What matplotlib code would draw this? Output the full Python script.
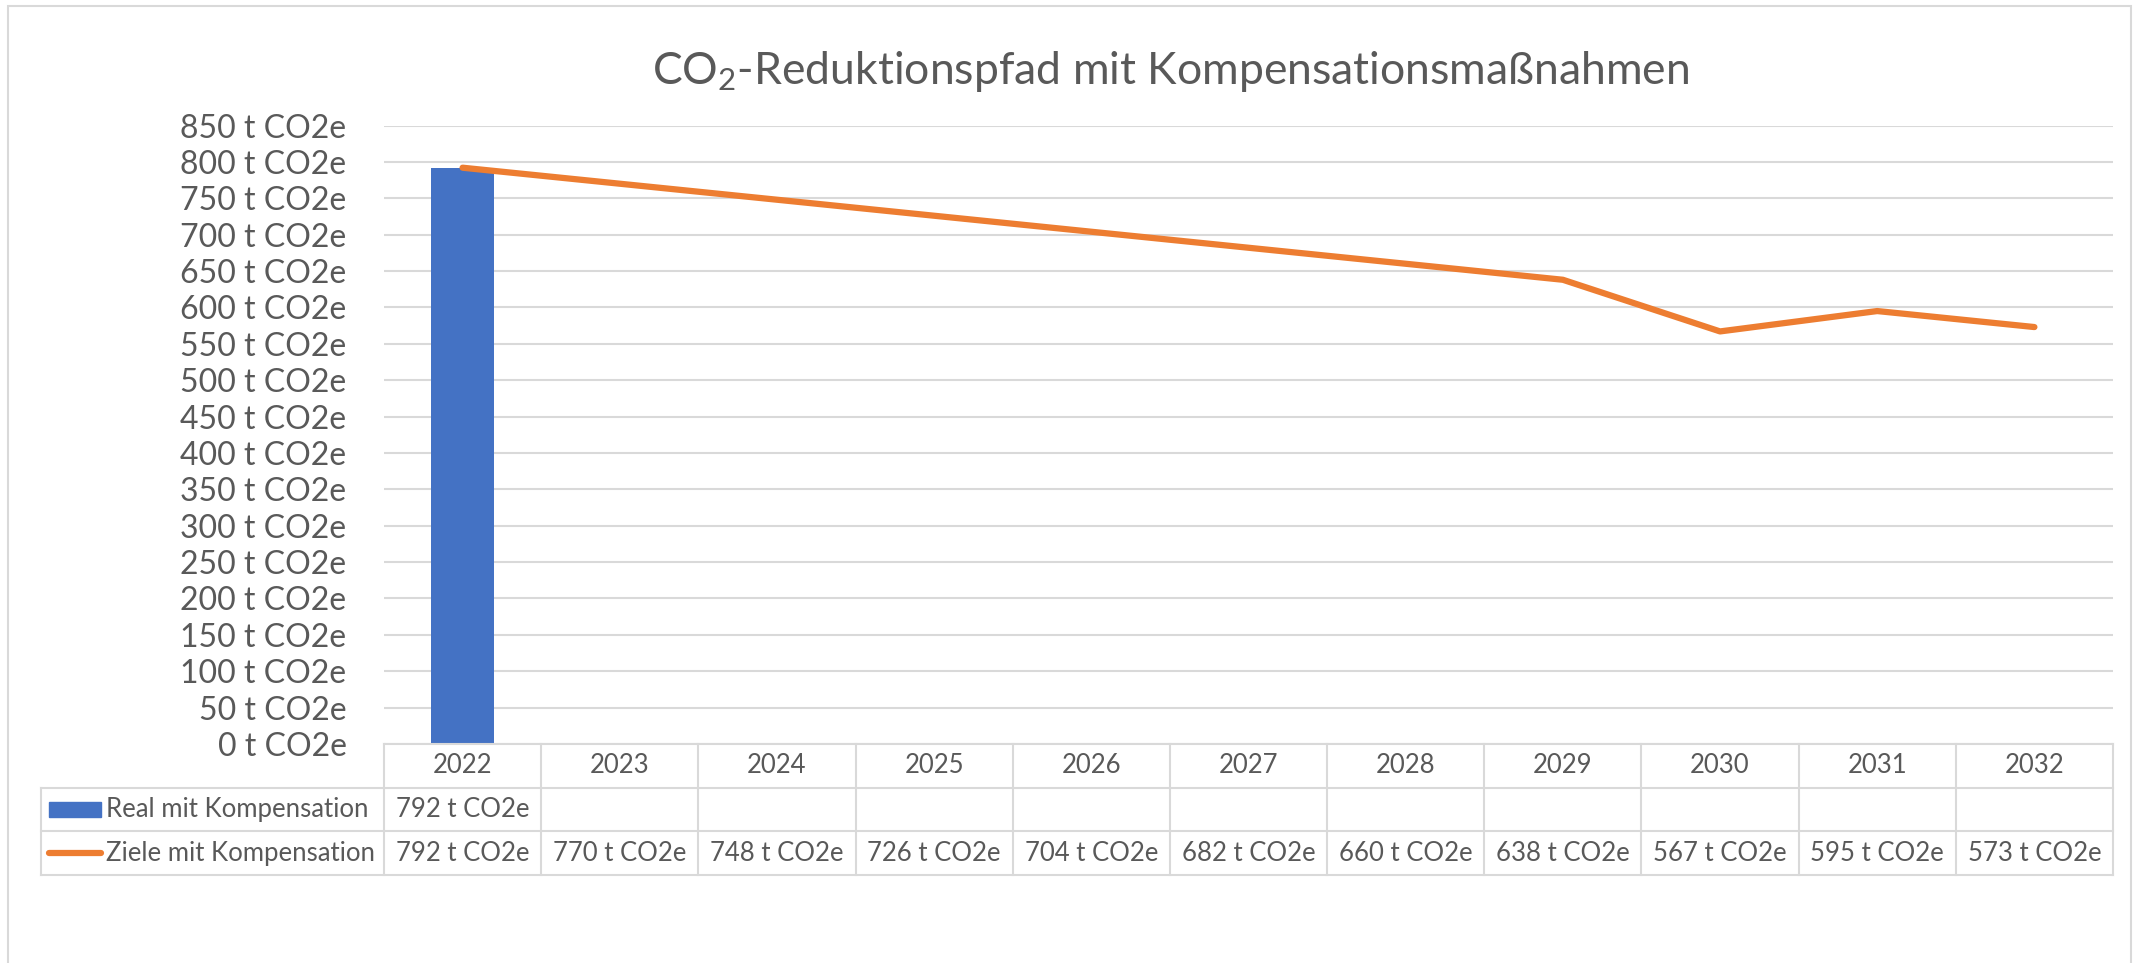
import matplotlib.pyplot as plt
import numpy as np
from matplotlib.patches import Rectangle
from matplotlib.ticker import MultipleLocator, FuncFormatter

plt.rcParams['font.family'] = ['Lato', 'DejaVu Sans']
plt.rcParams['mathtext.default'] = 'regular'

years = ['2022', '2023', '2024', '2025', '2026', '2027', '2028', '2029', '2030', '2031', '2032']
real_mit_komp = [792, None, None, None, None, None, None, None, None, None, None]
ziele_mit_komp = [792, 770, 748, 726, 704, 682, 660, 638, 567, 595, 573]
series_names = ['Real mit Kompensation', 'Ziele mit Kompensation']

title = 'CO$_2$-Reduktionspfad mit Kompensationsmaßnahmen'
unit = 't CO2e'

blue = '#4472C4'
orange = '#ED7D31'
grid_col = '#D9D9D9'
text_col = '#595959'

W, H = 2136, 963
fig = plt.figure(figsize=(W / 100, H / 100), dpi=100)

# Rahmen um das Diagramm
fig.patches.append(Rectangle((8 / W, -0.1), (2131 - 8) / W, 1.1 - 6 / H,
                             transform=fig.transFigure, fill=False,
                             edgecolor=grid_col, lw=1.5))

# Hauptdiagramm
left, right = 384 / W, 2113 / W
top, bottom = 1 - 125.5 / H, 1 - 744 / H
ax = fig.add_axes([left, bottom, right - left, top - bottom])

x = np.arange(len(years))
real_vals = np.array([np.nan if v is None else v for v in real_mit_komp], dtype=float)
ax.bar(x, real_vals, width=0.4, color=blue, zorder=3)
ax.plot(x, ziele_mit_komp, color=orange, lw=4.5, solid_capstyle='round',
        solid_joinstyle='round', zorder=4)

ax.set_xlim(-0.5, len(years) - 0.5)
ax.set_ylim(0, 850)
ax.yaxis.set_major_locator(MultipleLocator(50))
ax.yaxis.set_major_formatter(FuncFormatter(lambda v, p: f'{int(v)} {unit}'))
ax.tick_params(axis='y', length=0, pad=27, labelsize=23, labelcolor=text_col)
ax.set_xticks([])
ax.grid(axis='y', color=grid_col, lw=1.5, zorder=0)
for s in ax.spines.values():
    s.set_visible(False)

fig.text(1170 / W, 1 - 72 / H, title, ha='center', va='center',
         fontsize=32, color=text_col)

# Datentabelle unter dem Diagramm
tab_top, tab_bottom = 1 - 744 / H, 1 - 875 / H
tax = fig.add_axes([left, tab_bottom, right - left, tab_top - tab_bottom])
tax.set_xlim(-0.5, len(years) - 0.5)
tax.set_ylim(0, 3)
tax.axis('off')

cell_px = (2113 - 384) / len(years)
x_leg = -0.5 - (384 - 41) / cell_px
n = len(years)
lk = dict(color=grid_col, lw=1.5, clip_on=False)
tax.plot([-0.5, n - 0.5], [3, 3], **lk)
for yy in [2, 1, 0]:
    tax.plot([x_leg, n - 0.5], [yy, yy], **lk)
for i in range(n + 1):
    tax.plot([i - 0.5, i - 0.5], [0, 3], **lk)
tax.plot([x_leg, x_leg], [0, 2], **lk)

fs = 18.5
for i, yr in enumerate(years):
    tax.text(i, 2.5, yr, ha='center', va='center', fontsize=fs, color=text_col)
    if real_mit_komp[i] is not None:
        tax.text(i, 1.5, f'{real_mit_komp[i]} {unit}', ha='center', va='center',
                 fontsize=fs, color=text_col)
    tax.text(i, 0.5, f'{ziele_mit_komp[i]} {unit}', ha='center', va='center',
             fontsize=fs, color=text_col)

# Legendenschluessel
k0 = x_leg + (49 - 41) / cell_px
k1 = x_leg + (101 - 41) / cell_px
tax.add_patch(Rectangle((k0, 1.33), k1 - k0, 0.34, color=blue, clip_on=False))
tax.plot([k0, k1], [0.5, 0.5], color=orange, lw=4.5, solid_capstyle='round', clip_on=False)
tx = x_leg + (106 - 41) / cell_px
tax.text(tx, 1.5, series_names[0], ha='left', va='center', fontsize=fs, color=text_col)
tax.text(tx, 0.5, series_names[1], ha='left', va='center', fontsize=fs, color=text_col)

fig.savefig('out.png', dpi=100, facecolor='white')
